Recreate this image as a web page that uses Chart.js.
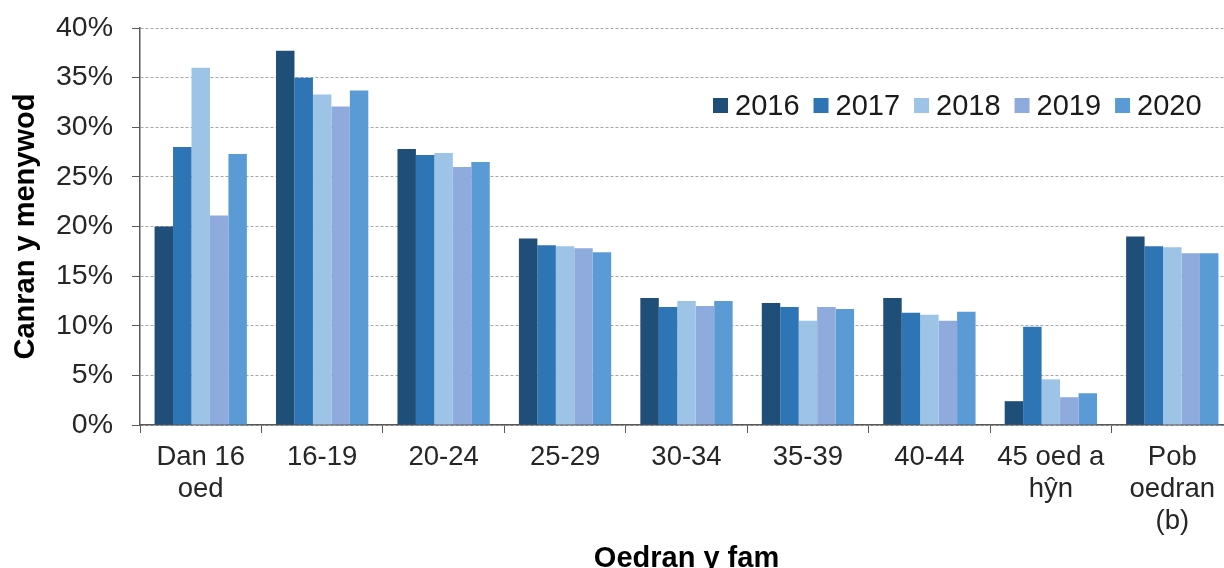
<!DOCTYPE html>
<html><head><meta charset="utf-8">
<script src="https://cdn.jsdelivr.net/npm/chart.js@4"></script>
<style>
html,body{margin:0;padding:0;overflow:hidden;background:#fff;width:1224px;height:568px}
#wrap{position:absolute;left:0;top:0;width:1300px;height:600px}
</style></head>
<body><div id="wrap"><canvas id="c" width="1300" height="600"></canvas></div>
<script>
const categories = [["Dan 16","oed"],"16-19","20-24","25-29","30-34","35-39","40-44",["45 oed a","hŷn"],["Pob","oedran","(b)"]];
const years = ["2016","2017","2018","2019","2020"];
const v2016 = [20.0,37.7,27.8,18.8,12.8,12.3,12.8,2.4,19.0];
const v2017 = [28.0,35.0,27.2,18.1,11.9,11.9,11.3,9.9,18.0];
const v2018 = [36.0,33.3,27.4,18.0,12.5,10.5,11.1,4.6,17.9];
const v2019 = [21.1,32.1,26.0,17.8,12.0,11.9,10.5,2.8,17.3];
const v2020 = [27.3,33.7,26.5,17.4,12.5,11.7,11.4,3.2,17.3];
const colors = ["#1F4E79","#2E75B6","#9DC3E6","#8FAADC","#5B9BD5"];
const yTicks = [0,5,10,15,20,25,30,35,40];
const yTitle = "Canran y menywod";
const xTitle = "Oedran y fam";

const series = [v2016,v2017,v2018,v2019,v2020];
const FONT = "'Liberation Sans', Arial, sans-serif";

const legendPlugin = {
  id: 'insideLegend',
  afterDraw(chart) {
    const ctx = chart.ctx;
    ctx.save();
    ctx.font = "29px " + FONT;
    ctx.textBaseline = 'alphabetic';
    ctx.textAlign = 'left';
    let x = 713;
    chart.data.datasets.forEach(ds => {
      ctx.fillStyle = ds.backgroundColor;
      ctx.fillRect(x, 98, 15, 15);
      ctx.fillStyle = '#1a1a1a';
      ctx.fillText(ds.label, x + 22, 114.5);
      x += 22 + ctx.measureText(ds.label).width + 14;
    });
    ctx.restore();
  }
};

new Chart(document.getElementById('c'), {
  type: 'bar',
  data: {
    labels: categories,
    datasets: years.map((y, i) => ({
      label: y,
      data: series[i],
      backgroundColor: colors[i],
      borderWidth: 0,
      categoryPercentage: 0.76,
      barPercentage: 1.0
    }))
  },
  options: {
    responsive: false,
    devicePixelRatio: 1,
    animation: false,
    layout: { padding: { left: 0, right: 67, top: 28, bottom: 0 } },
    plugins: { legend: { display: false }, tooltip: { enabled: false } },
    scales: {
      x: {
        offset: true,
        grid: { display: true, drawOnChartArea: false, drawTicks: true, tickLength: 8, color: '#595959', tickColor: '#595959', lineWidth: 1 },
        border: { display: true, color: '#595959', width: 1.5 },
        ticks: { color: '#262626', font: { family: FONT, size: 27.5, lineHeight: 1.17 }, padding: 8, maxRotation: 0, autoSkip: false },
        title: { display: true, text: xTitle, color: '#000', font: { family: FONT, size: 29, weight: 'bold' }, padding: { top: 0, bottom: 24 } },
        afterFit(s) { s.height = 175; s.paddingLeft = 0; s.paddingRight = 0; }
      },
      y: {
        min: 0, max: 40,
        afterBuildTicks(s) { s.ticks = yTicks.map(v => ({ value: v })); },
        grid: { color: '#a6a6a6', lineWidth: 1, tickLength: 8, tickColor: '#595959', tickBorderDash: [], drawTicks: true },
        border: { display: true, color: '#595959', width: 1.5, dash: [3, 2] },
        ticks: { color: '#262626', font: { family: FONT, size: 28.5 }, padding: 19, callback: v => v + '%' },
        title: { display: true, text: yTitle, color: '#000', font: { family: FONT, size: 29, weight: 'bold' }, padding: { top: 8.6, bottom: 0 } },
        afterFit(s) { s.width = 140; s.paddingTop = 0; s.paddingBottom = 0; }
      }
    }
  },
  plugins: [legendPlugin]
});
</script>
</body></html>
